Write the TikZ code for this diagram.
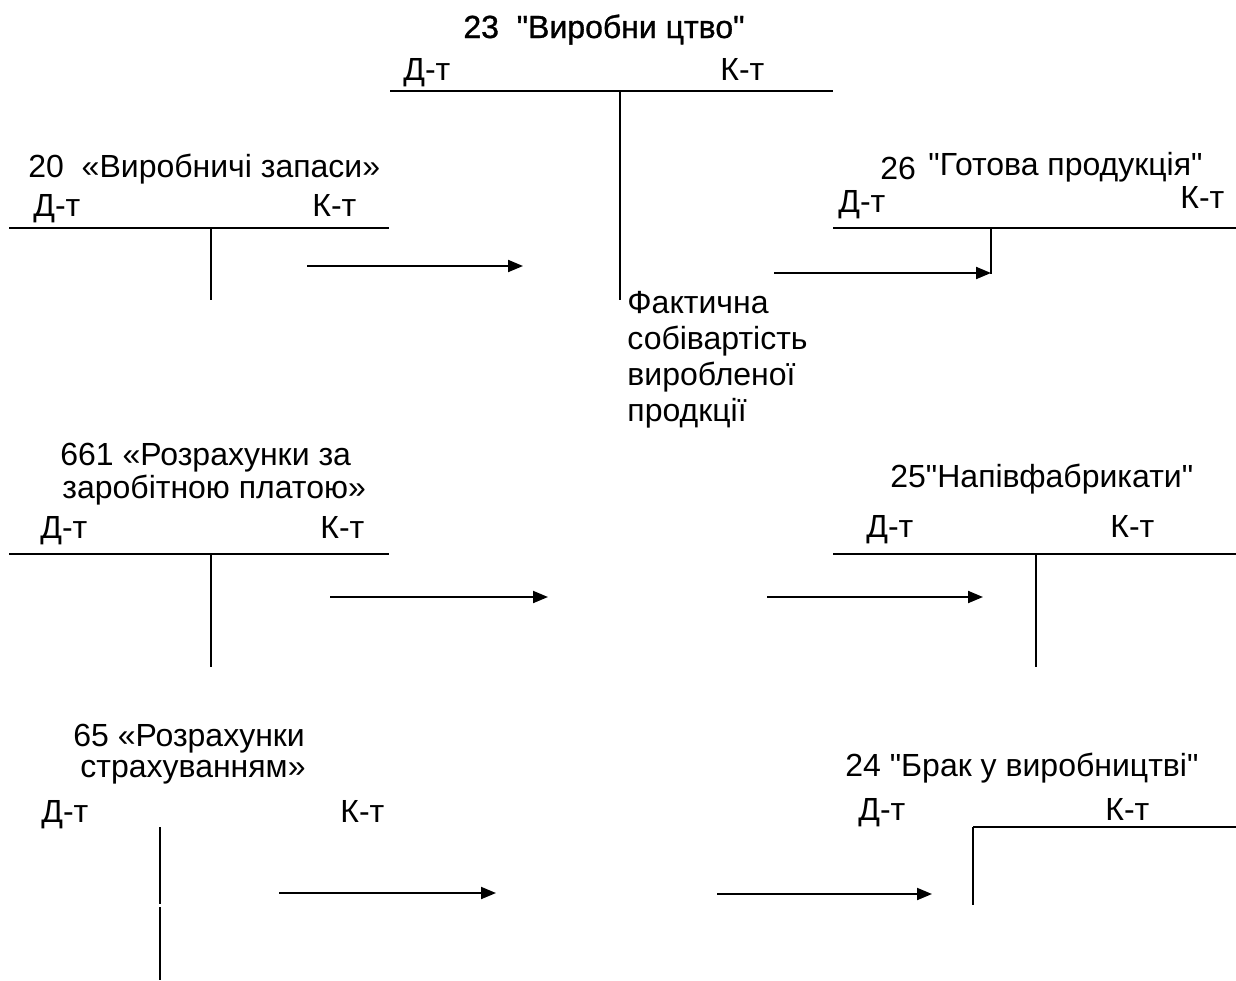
\documentclass[tikz,border=0pt]{standalone}
\usepackage{fontspec}
\setmainfont{Liberation Sans}[Ligatures=TeXOff]
\newfontfamily\heavyfont{Liberation Sans}[Ligatures=TeXOff,FakeBold=1]
\usetikzlibrary{arrows.meta}
\tikzset{
  tx/.style={inner sep=0pt, anchor=base west, font=\fontsize{16}{18}\selectfont},
  tline/.style={line width=1pt},
  flow/.style={line width=1pt, -{Triangle[length=7.5pt,width=6pt]}}
}
\begin{document}
\begin{tikzpicture}[x=0.5pt,y=-0.5pt]
\useasboundingbox (0,0) rectangle (1236,980);
% 23
\node[tx, font=\fontsize{16}{18}\heavyfont] (t23) at (463,38) {23\ \ "Виробни цтво"};
\node[tx] (d23) at (403,80) {Д-т};
\node[tx] (k23) at (720,80) {К-т};
\draw[tline] (390,91) -- (833,91);
\draw[tline] (620,91) -- (620,300);
\node[tx] (f1) at (627,313) {Фактична};
\node[tx] (f2) at (627,349) {собівартість};
\node[tx] (f3) at (627,385) {виробленої};
\node[tx] (f4) at (627,421) {продкції};
% 20
\node[tx] (t20) at (28,177) {20\ \ «Виробничі запаси»};
\node[tx] (d20) at (33,216) {Д-т};
\node[tx] (k20) at (312,216) {К-т};
\draw[tline] (9,228) -- (389,228);
\draw[tline] (211,228) -- (211,300);
\coordinate (a1s) at (307,266); \coordinate (a1e) at (523,266);
\draw[flow] (a1s) -- (a1e);
% 26
\node[tx] (n26) at (880,179) {26};
\node[tx] (t26) at (928,175) {"Готова продукція"};
\node[tx] (d26) at (838,212) {Д-т};
\node[tx] (k26) at (1180,208) {К-т};
\draw[tline] (833,228) -- (1236,228);
\draw[tline] (991,228) -- (991,274);
\coordinate (a2s) at (774,273); \coordinate (a2e) at (991,273);
\draw[flow] (a2s) -- (a2e);
% 661
\node[tx] (t661a) at (60,465) {661 «Розрахунки за};
\node[tx] (t661b) at (62,498) {заробітною платою»};
\node[tx] (d661) at (40,538) {Д-т};
\node[tx] (k661) at (320,538) {К-т};
\draw[tline] (9,554) -- (389,554);
\draw[tline] (211,554) -- (211,667);
\coordinate (a3s) at (330,597); \coordinate (a3e) at (548,597);
\draw[flow] (a3s) -- (a3e);
% 25
\node[tx] (t25) at (890,487) {25"Напівфабрикати"};
\node[tx] (d25) at (866,537) {Д-т};
\node[tx] (k25) at (1110,537) {К-т};
\draw[tline] (833,554) -- (1236,554);
\draw[tline] (1036,554) -- (1036,667);
\coordinate (a4s) at (767,597); \coordinate (a4e) at (983,597);
\draw[flow] (a4s) -- (a4e);
% 65
\node[tx] (t65a) at (73,746) {65 «Розрахунки};
\node[tx] (t65b) at (80,777) {страхуванням»};
\node[tx] (d65) at (41,822) {Д-т};
\node[tx] (k65) at (340,822) {К-т};
\draw[tline] (160,827) -- (160,904);
\draw[tline] (160,907) -- (160,980);
\coordinate (a5s) at (279,893); \coordinate (a5e) at (496,893);
\draw[flow] (a5s) -- (a5e);
% 24
\node[tx] (t24) at (845,776) {24 "Брак у виробництві"};
\node[tx] (d24) at (858,820) {Д-т};
\node[tx] (k24) at (1105,820) {К-т};
\draw[tline] (973,827) -- (1236,827);
\draw[tline] (973,827) -- (973,905);
\coordinate (a6s) at (717,894); \coordinate (a6e) at (932,894);
\draw[flow] (a6s) -- (a6e);
\end{tikzpicture}
\end{document}
